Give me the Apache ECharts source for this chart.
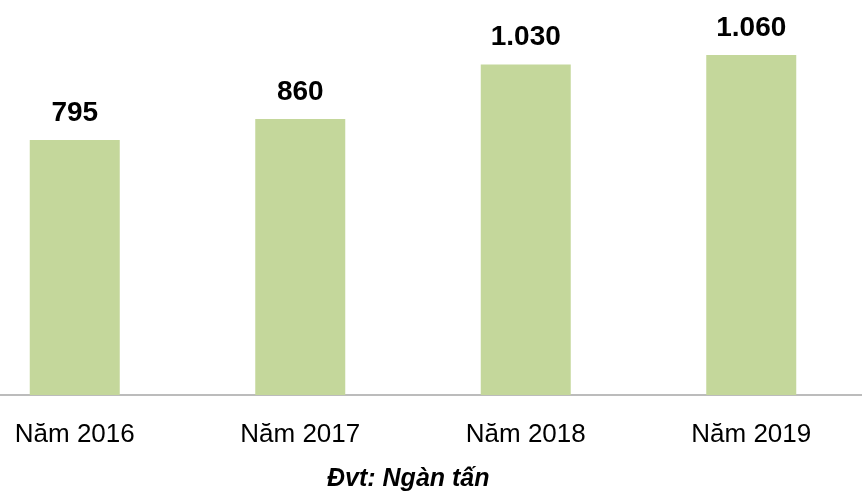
<!DOCTYPE html>
<html>
<head>
<meta charset="utf-8">
<script src="https://cdn.jsdelivr.net/npm/echarts@6/dist/echarts.min.js"></script>
<style>
  html, body { margin: 0; padding: 0; background: #fff; overflow: hidden; }
  #wrap { position: relative; width: 862px; height: 494px; overflow: hidden; }
  /* the plot is cropped on the left in the original, so the canvas is shifted */
  #chart { position: absolute; left: -38px; top: 0; width: 902px; height: 494px; }
</style>
</head>
<body>
<div id="wrap"><div id="chart"></div></div>
<script>
// Sản lượng theo năm (Đvt: Ngàn tấn)
const years = ['Năm 2016', 'Năm 2017', 'Năm 2018', 'Năm 2019'];
const values = [795, 860, 1030, 1060];
const unitNote = 'Đvt: Ngàn tấn';

// 1030 -> "1.030"
const fmt = v => String(v).replace(/\B(?=(\d{3})+(?!\d))/g, '.');

const chart = echarts.init(document.getElementById('chart'));

chart.setOption({
  animation: false,
  backgroundColor: '#fff',
  grid: { left: 0, right: 0, top: 10, bottom: 99 },
  xAxis: {
    type: 'category',
    data: years,
    axisLine: { lineStyle: { color: '#a6a6a6', width: 1.5 } },
    axisTick: { show: false },
    axisLabel: {
      color: '#000',
      fontFamily: 'Liberation Sans, Arial',
      fontSize: 26,
      margin: 27
    }
  },
  yAxis: {
    type: 'value',
    min: 0,
    max: 1200,
    show: false,
    splitLine: { show: false }
  },
  series: [{
    type: 'bar',
    data: values,
    barWidth: 90,
    itemStyle: { color: '#c4d79b' },
    label: {
      show: true,
      position: 'top',
      distance: 13,
      color: '#000',
      fontFamily: 'Liberation Sans, Arial',
      fontWeight: 'bold',
      fontSize: 28,
      formatter: p => fmt(p.value)
    }
  }],
  graphic: [{
    type: 'text',
    left: 365,
    top: 467,
    style: {
      text: unitNote,
      fill: '#000',
      font: 'italic bold 25px "Liberation Sans", Arial'
    }
  }]
});
</script>
</body>
</html>
